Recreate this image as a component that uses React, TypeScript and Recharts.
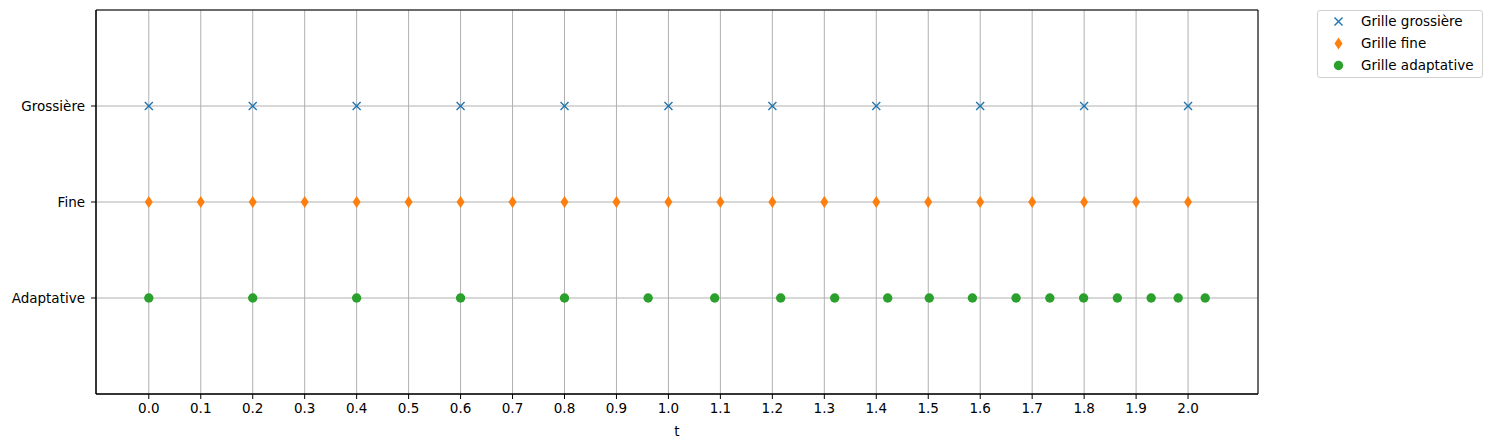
import React from 'react';
import { ScatterChart, Scatter, XAxis, YAxis, CartesianGrid, ReferenceArea } from 'recharts';

const coarseT = [0.0, 0.2, 0.4, 0.6, 0.8, 1.0, 1.2, 1.4, 1.6, 1.8, 2.0];
const fineT = [0.0, 0.1, 0.2, 0.3, 0.4, 0.5, 0.6, 0.7, 0.8, 0.9, 1.0, 1.1, 1.2, 1.3, 1.4, 1.5, 1.6, 1.7, 1.8, 1.9, 2.0];
const adaptiveT = [0.0, 0.2, 0.4, 0.6, 0.8, 0.961, 1.089, 1.216, 1.32, 1.422, 1.502, 1.585, 1.669, 1.734, 1.799, 1.864, 1.929, 1.981, 2.033];
const xTicks = [0.0, 0.1, 0.2, 0.3, 0.4, 0.5, 0.6, 0.7, 0.8, 0.9, 1.0, 1.1, 1.2, 1.3, 1.4, 1.5, 1.6, 1.7, 1.8, 1.9, 2.0];
const yLabels = ['Adaptative', 'Fine', 'Grossière'];
const seriesNames = ['Grille grossière', 'Grille fine', 'Grille adaptative'];
const colors = ['#1f77b4', '#ff7f0e', '#2ca02c'];

const X_MIN = -0.1016;
const X_MAX = 2.1346;

const coarseData = coarseT.map((t) => ({ x: t, y: 2 }));
const fineData = fineT.map((t) => ({ x: t, y: 1 }));
const adaptiveData = adaptiveT.map((t) => ({ x: t, y: 0 }));

const XMark = (props: any) => {
  const { cx, cy } = props;
  const s = 4;
  return (
    <g>
      <line x1={cx - s} y1={cy - s} x2={cx + s} y2={cy + s} stroke={colors[0]} strokeWidth={1.4} />
      <line x1={cx - s} y1={cy + s} x2={cx + s} y2={cy - s} stroke={colors[0]} strokeWidth={1.4} />
    </g>
  );
};

const DiamondMark = (props: any) => {
  const { cx, cy } = props;
  const w = 4;
  const h = 6;
  return <path d={`M${cx},${cy - h}L${cx + w},${cy}L${cx},${cy + h}L${cx - w},${cy}Z`} fill={colors[1]} />;
};

const CircleMark = (props: any) => {
  const { cx, cy } = props;
  return <circle cx={cx} cy={cy} r={4.7} fill={colors[2]} />;
};

const legendMarkers = [
  (x: number, y: number) => <XMark cx={x} cy={y} />,
  (x: number, y: number) => <DiamondMark cx={x} cy={y} />,
  (x: number, y: number) => <CircleMark cx={x} cy={y} />,
];

const LegendBox = () => (
  <div
    style={{
      position: 'absolute',
      left: 1309,
      top: 2,
      width: 166,
      height: 68,
      border: '1px solid #d0d0d0',
      borderRadius: 3,
      background: '#fff',
      boxSizing: 'border-box',
      fontFamily: 'DejaVu Sans, sans-serif',
      fontSize: 13.5,
      color: '#000',
    }}
  >
    <svg width={40} height={66} style={{ position: 'absolute', left: 0, top: 0 }}>
      {seriesNames.map((_, i) => (
        <g key={i}>{legendMarkers[i](20.5, 10.5 + i * 22)}</g>
      ))}
    </svg>
    {seriesNames.map((n, i) => (
      <div key={n} style={{ position: 'absolute', left: 43, top: 1 + i * 22, lineHeight: '19px', whiteSpace: 'nowrap' }}>
        {n}
      </div>
    ))}
  </div>
);

export default function App() {
  return (
    <div style={{ fontFamily: 'DejaVu Sans, sans-serif', position: 'relative', width: 1484, height: 440 }}>
      <ScatterChart width={1484} height={440} margin={{ top: 2, right: 234, left: 0, bottom: 0 }}>
        <CartesianGrid stroke="#b0b0b0" strokeWidth={1} />
        <XAxis
          type="number"
          dataKey="x"
          domain={[X_MIN, X_MAX]}
          ticks={xTicks}
          tickFormatter={(v: number) => v.toFixed(1)}
          allowDataOverflow
          height={54}
          stroke="#000"
          tickSize={5}
          tickMargin={4}
          tick={{ fill: '#000', fontSize: 13.5, fontFamily: 'DejaVu Sans' }}
          interval={0}
          label={{ value: 't', position: 'insideBottom', offset: 12, fill: '#000', fontSize: 13.5, fontFamily: 'DejaVu Sans' }}
        />
        <YAxis
          type="number"
          dataKey="y"
          domain={[-1, 3]}
          ticks={[0, 1, 2]}
          tickFormatter={(v: number) => yLabels[v] ?? ''}
          allowDataOverflow
          width={88}
          stroke="#000"
          tickSize={5}
          tickMargin={6}
          tick={{ fill: '#000', fontSize: 13.5, fontFamily: 'DejaVu Sans' }}
          interval={0}
        />
        <ReferenceArea x1={X_MIN} x2={X_MAX} y1={-1} y2={3} fill="none" stroke="#000" strokeWidth={1} ifOverflow="visible" />
        <Scatter name={seriesNames[0]} data={coarseData} shape={XMark} isAnimationActive={false} />
        <Scatter name={seriesNames[1]} data={fineData} shape={DiamondMark} isAnimationActive={false} />
        <Scatter name={seriesNames[2]} data={adaptiveData} shape={CircleMark} isAnimationActive={false} />
      </ScatterChart>
      <LegendBox />
    </div>
  );
}
